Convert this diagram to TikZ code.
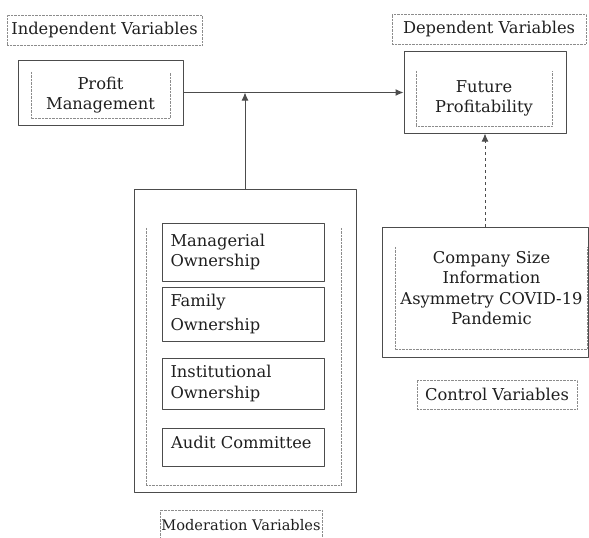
\documentclass[tikz,border=0pt]{standalone}
\usepackage{fontspec}
\setmainfont{DejaVu Serif}
\usetikzlibrary{positioning,arrows.meta}
\begin{document}
\begin{tikzpicture}[x=1pt,y=-1pt,line join=round,>={Latex[length=8pt,width=7pt]},
	font=\fontsize{16.3}{20.5}\selectfont,text=black!88,draw=black!75,
	outerbox/.style={draw=black!70,line width=1pt,inner sep=0pt},
	itembox/.style={draw=black!70,line width=0.9pt,minimum width=162pt,text width=145pt,align=left,inner sep=0pt},
	labelbox/.style={draw=black!45,densely dotted,inner sep=0pt},
	frame/.style={draw=black!45,densely dotted}]
	
	\useasboundingbox (0,0) rectangle (589,538);
	
	% labels
	\node[labelbox,minimum width=195pt,minimum height=30pt] (indep) at (104.5,30) {Independent Variables};
	\node[labelbox,minimum width=194pt,minimum height=30pt] (dep) at (489,29) {Dependent Variables};
	\node[labelbox,minimum width=160pt,minimum height=29pt] (ctrllab) at (497,394.5) {Control Variables};
	\node[labelbox,minimum width=162pt,minimum height=30pt,font=\fontsize{14.6}{16}\selectfont] (modlab) at (241,525) {Moderation Variables};
	
	% profit management
	\node[outerbox,minimum width=165pt,minimum height=65pt] (prof) at (100.5,92.5) {};
	\node[align=center,minimum width=139pt,minimum height=46pt,inner sep=0pt] (profin) at (100.5,95) {Profit\\Management};
	\draw[frame] (profin.north west) |- (profin.south east) -- (profin.north east);
	
	% future profitability
	\node[outerbox,minimum width=162pt,minimum height=82pt] (fut) at (485,92) {};
	\node[align=center,minimum width=136pt,minimum height=55pt,inner sep=0pt] (futin) at (484,98.5) {Future\\Profitability};
	\draw[frame] (futin.north west) |- (futin.south east) -- (futin.north east);
	
	% moderation
	\node[outerbox,minimum width=222pt,minimum height=303pt] (mod) at (245,340.5) {};
	\node[minimum width=195pt,minimum height=257pt,inner sep=0pt] (modin) at (243.5,356.5) {};
	\draw[frame] (modin.north west) |- (modin.south east) -- (modin.north east);
	\node[itembox,minimum height=58pt] (mgr) at (243,252) {Managerial\\Ownership};
	\node[itembox,minimum height=54pt] (fam) at (243,314) {Family\\[3pt]Ownership};
	\node[itembox,minimum height=51pt] (inst) at (243,383.5) {Institutional\\Ownership};
	\node[itembox,minimum height=38pt] (aud) at (243,447) {};
	\node[anchor=west,inner sep=0pt] (audtxt) at (171,442) {Audit Committee};
	
	% control
	\node[outerbox,minimum width=206pt,minimum height=130pt] (ctrl) at (485,292) {};
	\node[align=center,minimum width=192pt,minimum height=102pt,inner sep=0pt] (ctrlin) at (491,298) {};
	\draw[frame] (ctrlin.north west) |- (ctrlin.south east) -- (ctrlin.north east);
	\node[align=center,inner sep=0pt] (ctrltxt) at (491.5,288) {Company Size\\Information\\Asymmetry COVID-19\\Pandemic};
	
	% connectors
	\draw[->,line width=1pt,black!70] (prof.east) -- (prof.east -| fut.west);
	\coordinate (meet) at (mod.north |- prof.east);
	\draw[->,line width=1pt,black!70] (mod.north) -- (meet);
	\draw[->,line width=1pt,black!70,dashed] (ctrl.north) -- (ctrl.north |- fut.south);
\end{tikzpicture}
\end{document}
